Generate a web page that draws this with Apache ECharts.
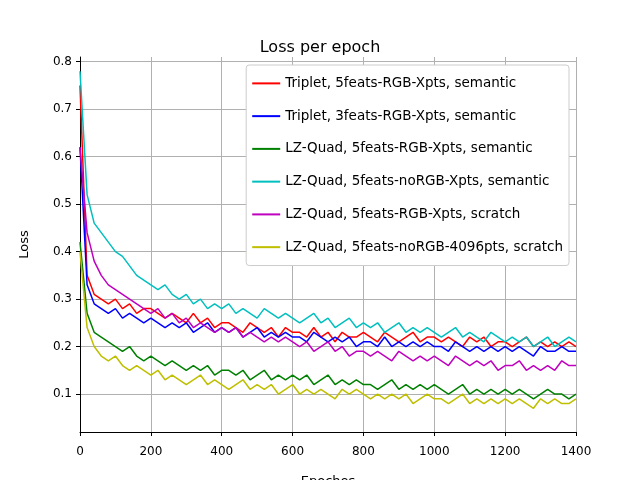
<!DOCTYPE html>
<html>
<head>
  <script src="https://cdn.jsdelivr.net/npm/echarts@6/dist/echarts.min.js"></script>
</head>
<body style="margin:0">
<div id="main" style="width:640px;height:480px"></div>
<script>
  // epochs sampled every 20
  const epochs = []
  for (let e = 0; e <= 1400; e += 20) epochs.push(e)
  const yTicks = [0.1, 0.2, 0.3, 0.4, 0.5, 0.6, 0.7, 0.8]

  const names = [
    'Triplet, 5feats-RGB-Xpts, semantic',
    'Triplet, 3feats-RGB-Xpts, semantic',
    'LZ-Quad, 5feats-RGB-Xpts, semantic',
    'LZ-Quad, 5feats-noRGB-Xpts, semantic',
    'LZ-Quad, 5feats-RGB-Xpts, scratch',
    'LZ-Quad, 5feats-noRGB-4096pts, scratch'
  ]
  const colors = ['#ff0000', '#0000ff', '#008000', '#00bfbf', '#bf00bf', '#bfbf00']

  const red = [0.75,0.35,0.31,0.30,0.29,0.30,0.28,0.29,0.27,0.28,0.28,
    0.27,0.26,0.27,0.26,0.25,0.27,0.25,0.26,0.24,0.25,
    0.25,0.24,0.23,0.25,0.24,0.23,0.24,0.22,0.24,0.23,
    0.23,0.22,0.24,0.22,0.23,0.21,0.23,0.22,0.22,0.23,
    0.22,0.21,0.23,0.22,0.21,0.22,0.23,0.21,0.22,0.22,
    0.21,0.22,0.21,0.20,0.22,0.21,0.22,0.20,0.21,0.21,
    0.20,0.21,0.22,0.20,0.21,0.20,0.21,0.20,0.21,0.20]
  const blue = [0.62,0.33,0.29,0.28,0.27,0.28,0.26,0.27,0.26,0.25,0.26,
    0.25,0.24,0.25,0.24,0.25,0.23,0.24,0.25,0.23,0.24,
    0.23,0.24,0.22,0.23,0.24,0.22,0.23,0.22,0.23,0.22,
    0.22,0.21,0.23,0.22,0.21,0.22,0.21,0.22,0.20,0.21,
    0.21,0.20,0.22,0.20,0.21,0.20,0.21,0.20,0.21,0.20,
    0.20,0.19,0.21,0.20,0.19,0.20,0.19,0.20,0.19,0.20,
    0.19,0.20,0.19,0.18,0.20,0.19,0.19,0.20,0.19,0.19]
  const green = [0.42,0.27,0.23,0.22,0.21,0.20,0.19,0.20,0.18,0.17,0.18,
    0.17,0.16,0.17,0.16,0.15,0.16,0.15,0.16,0.14,0.15,
    0.15,0.14,0.15,0.13,0.14,0.15,0.13,0.14,0.13,0.14,
    0.13,0.14,0.12,0.13,0.14,0.12,0.13,0.12,0.13,0.12,
    0.12,0.11,0.12,0.13,0.11,0.12,0.11,0.12,0.11,0.12,
    0.11,0.10,0.11,0.12,0.10,0.11,0.10,0.11,0.10,0.11,
    0.10,0.11,0.10,0.09,0.10,0.11,0.10,0.10,0.09,0.10]
  const cyan = [0.78,0.52,0.46,0.44,0.42,0.40,0.39,0.37,0.35,0.34,0.33,
    0.32,0.33,0.31,0.30,0.31,0.29,0.30,0.28,0.29,0.28,
    0.29,0.27,0.28,0.27,0.26,0.28,0.27,0.26,0.27,0.26,
    0.25,0.26,0.27,0.25,0.26,0.24,0.25,0.26,0.24,0.25,
    0.24,0.25,0.23,0.24,0.25,0.23,0.24,0.23,0.24,0.23,
    0.22,0.23,0.24,0.22,0.23,0.22,0.21,0.23,0.22,0.21,
    0.22,0.21,0.22,0.20,0.21,0.22,0.20,0.21,0.22,0.21]
  const magenta = [0.62,0.44,0.38,0.35,0.33,0.32,0.31,0.30,0.29,0.28,0.27,
    0.28,0.26,0.27,0.25,0.26,0.24,0.25,0.24,0.23,0.24,
    0.23,0.24,0.22,0.23,0.22,0.21,0.22,0.21,0.22,0.21,
    0.20,0.21,0.19,0.20,0.21,0.19,0.20,0.18,0.19,0.19,
    0.18,0.19,0.18,0.17,0.19,0.18,0.17,0.18,0.17,0.18,
    0.17,0.16,0.18,0.17,0.16,0.17,0.16,0.17,0.15,0.16,
    0.16,0.17,0.15,0.16,0.15,0.16,0.15,0.17,0.16,0.16]
  const yellow = [0.40,0.24,0.20,0.18,0.17,0.18,0.16,0.15,0.16,0.15,0.14,
    0.15,0.13,0.14,0.13,0.12,0.13,0.14,0.12,0.13,0.12,
    0.11,0.12,0.13,0.11,0.12,0.11,0.12,0.10,0.11,0.12,
    0.10,0.11,0.10,0.11,0.10,0.09,0.11,0.10,0.11,0.10,
    0.09,0.10,0.09,0.10,0.09,0.10,0.08,0.09,0.10,0.09,
    0.09,0.08,0.09,0.10,0.08,0.09,0.08,0.09,0.08,0.09,
    0.08,0.09,0.08,0.07,0.09,0.08,0.09,0.08,0.08,0.09]
  const allData = [red, blue, green, cyan, magenta, yellow]

  const font = 'DejaVu Sans'
  let chart = echarts.init(document.getElementById('main'))
  chart.setOption({
    animation: false,
    textStyle: { fontFamily: font },
    title: {
      text: 'Loss per epoch', left: 'center', top: 34,
      textStyle: { fontFamily: font, fontSize: 16, fontWeight: 'normal', color: '#000', lineHeight: 18 }
    },
    grid: { left: 80, right: 64, top: 57, bottom: 48, outerBoundsMode: 'none', containLabel: false },
    legend: {
      orient: 'vertical', right: 71, top: 65,
      backgroundColor: '#fff', borderColor: '#ccc', borderWidth: 1, borderRadius: 3,
      padding: [5, 6, 5, 6], itemGap: 6, itemWidth: 28, itemHeight: 2,
      icon: 'rect',
      textStyle: { fontFamily: font, fontSize: 13.5, color: '#000', lineHeight: 15 }
    },
    xAxis: {
      type: 'value', min: 0, max: 1400, interval: 200,
      name: 'Epoches', nameLocation: 'middle', nameGap: 24,
      nameTextStyle: { fontSize: 13, color: '#000' },
      axisLine: { lineStyle: { color: '#000' } },
      axisTick: { lineStyle: { color: '#000' }, length: 4 },
      axisLabel: { color: '#000', fontSize: 12, formatter: v => String(v) },
      splitLine: { lineStyle: { color: '#b0b0b0' } }
    },
    yAxis: {
      type: 'value', min: 0.02, max: 0.81,
      name: 'Loss', nameLocation: 'middle', nameGap: 42,
      nameTextStyle: { fontSize: 13, color: '#000' },
      axisLine: { show: true, lineStyle: { color: '#000' } },
      axisTick: { show: true, customValues: yTicks, lineStyle: { color: '#000' }, length: 4 },
      axisLabel: { customValues: yTicks, color: '#000', fontSize: 12, formatter: v => v.toFixed(1) },
      splitLine: { show: true, lineStyle: { color: '#b0b0b0' } }
    },
    series: allData.map((d, i) => ({
      name: names[i], type: 'line', showSymbol: false,
      color: colors[i], lineStyle: { width: 1.5 },
      data: d.map((v, j) => [epochs[j], v])
    }))
  })
</script>
</body>
</html>
